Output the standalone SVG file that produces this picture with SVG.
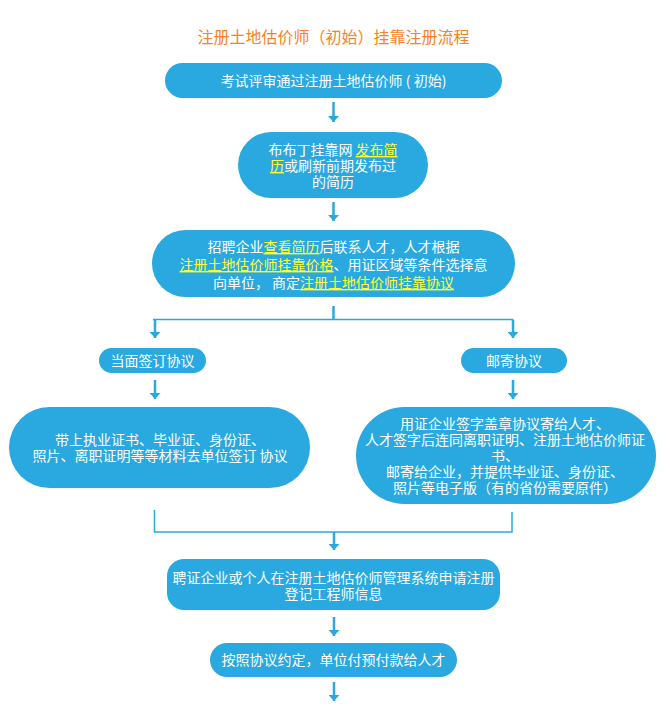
<svg xmlns="http://www.w3.org/2000/svg" width="670" height="707" viewBox="0 0 670 707">
<style>
.box{fill:#29a9e0;}
.t{font-family:"Noto Sans CJK SC","Microsoft YaHei",sans-serif;font-size:14px;fill:#ffffff;text-anchor:middle;}
.hl{fill:#ffff33;text-decoration:underline;}
.title{font-family:"Noto Sans CJK SC","Microsoft YaHei",sans-serif;font-size:16px;fill:#f7821e;text-anchor:middle;}
.ln{stroke:#29a9e0;stroke-width:2.5;fill:none;}
.ln2{stroke:#29a9e0;stroke-width:1.5;fill:none;}
</style>
<defs>
<marker id="ah" markerUnits="userSpaceOnUse" viewBox="0 0 6 11" refX="6" refY="5.5" markerWidth="6" markerHeight="11" orient="auto">
<path d="M0,0 L6,5.5 L0,11 z" fill="#29a9e0"/>
</marker>
</defs>
<rect width="670" height="707" fill="#ffffff"/>
<text class="title" x="333.5" y="43">注册土地估价师（初始）挂靠注册流程</text>

<g id="n1">
<rect class="box" x="165" y="63" width="337" height="35" rx="17.5"/>
<text class="t" x="333.5" y="86">考试评审通过注册土地估价师 ( 初始)</text>
</g>
<g id="n2">
<rect class="box" x="238" y="132" width="190" height="66" rx="33"/>
<text class="t" x="333" y="155">布布丁挂靠网 <tspan class="hl">发布简</tspan></text>
<text class="t" x="333" y="171"><tspan class="hl">历</tspan>或刷新前期发布过</text>
<text class="t" x="333" y="187">的简历</text>
</g>
<g id="n3">
<rect class="box" x="152" y="230" width="363" height="67" rx="33.5"/>
<text class="t" x="333.5" y="252">招聘企业<tspan class="hl">查看简历</tspan>后联系人才，人才根据</text>
<text class="t" x="333.5" y="270"><tspan class="hl">注册土地估价师挂靠价格</tspan>、用证区域等条件选择意</text>
<text class="t" x="333.5" y="288">向单位， 商定<tspan class="hl">注册土地估价师挂靠协议</tspan></text>
</g>
<g id="n4">
<rect class="box" x="99" y="348" width="107" height="25" rx="12.5"/>
<text class="t" x="152.5" y="365.5">当面签订协议</text>
</g>
<g id="n5">
<rect class="box" x="461" y="348" width="106" height="25" rx="12.5"/>
<text class="t" x="514" y="365.5">邮寄协议</text>
</g>
<g id="n6">
<rect class="box" x="9" y="407" width="301" height="81" rx="40.5"/>
<text class="t" x="160" y="445">带上执业证书、毕业证、身份证、</text>
<text class="t" x="160" y="461">照片、离职证明等等材料去单位签订 协议</text>
</g>
<g id="n7">
<rect class="box" x="356" y="407" width="300" height="97" rx="48.5"/>
<text class="t" x="505" y="429">用证企业签字盖章协议寄给人才、</text>
<text class="t" x="505" y="445">人才签字后连同离职证明、注册土地估价师证</text>
<text class="t" x="505" y="461">书、</text>
<text class="t" x="505" y="477">邮寄给企业，并提供毕业证、身份证、</text>
<text class="t" x="505" y="493">照片等电子版（有的省份需要原件）</text>
</g>
<g id="n8">
<rect class="box" x="167" y="559" width="333" height="51" rx="17"/>
<text class="t" x="333.5" y="582.5">聘证企业或个人在注册土地估价师管理系统申请注册</text>
<text class="t" x="333.5" y="598.5">登记工程师信息</text>
</g>
<g id="n9">
<rect class="box" x="210" y="643" width="247" height="34" rx="17"/>
<text class="t" x="333.5" y="665">按照协议约定，单位付预付款给人才</text>
</g>

<g id="connectors">
<line class="ln" x1="333.5" y1="102" x2="333.5" y2="122" marker-end="url(#ah)"/>
<line class="ln" x1="333.5" y1="202" x2="333.5" y2="221" marker-end="url(#ah)"/>
<line class="ln" x1="333.5" y1="306" x2="333.5" y2="319"/>
<line class="ln2" x1="153" y1="319.5" x2="513.5" y2="319.5"/>
<line class="ln" x1="155" y1="320" x2="155" y2="338" marker-end="url(#ah)"/>
<line class="ln" x1="513" y1="320" x2="513" y2="338" marker-end="url(#ah)"/>
<line class="ln" x1="155" y1="380" x2="155" y2="399" marker-end="url(#ah)"/>
<line class="ln" x1="513" y1="380" x2="513" y2="399" marker-end="url(#ah)"/>
<polyline class="ln2" points="154.5,510 154.5,532 512,532 512,512"/>
<line class="ln" x1="334" y1="532" x2="334" y2="550" marker-end="url(#ah)"/>
<line class="ln" x1="334" y1="617" x2="334" y2="636" marker-end="url(#ah)"/>
<line class="ln" x1="334" y1="682" x2="334" y2="701" marker-end="url(#ah)"/>
</g>
</svg>
